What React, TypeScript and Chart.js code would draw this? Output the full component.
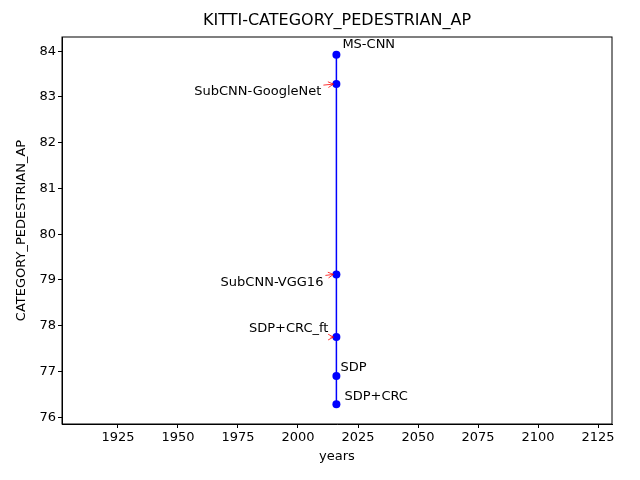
import { useEffect, useRef } from "react";
import { Chart, registerables, type Plugin } from "chart.js";

Chart.register(...registerables);

const methods = ["MS-CNN", "SubCNN-GoogleNet", "SubCNN-VGG16", "SDP+CRC_ft", "SDP", "SDP+CRC"];
const years = [2016, 2016, 2016, 2016, 2016, 2016];
const scores = [83.92, 83.28, 79.12, 77.75, 76.9, 76.28];
const xTicks = [1925, 1950, 1975, 2000, 2025, 2050, 2075, 2100, 2125];
const yTicks = [76, 77, 78, 79, 80, 81, 82, 83, 84];

// label offsets from the point, in pixels; arrow = red annotation arrow
const labelPos = [
  { dx: 6, dy: -10, align: "left" as CanvasTextAlign, arrow: false },
  { dx: -15, dy: 8, align: "right" as CanvasTextAlign, arrow: true },
  { dx: -13, dy: 8, align: "right" as CanvasTextAlign, arrow: true },
  { dx: -8, dy: -8, align: "right" as CanvasTextAlign, arrow: true },
  { dx: 4, dy: -8, align: "left" as CanvasTextAlign, arrow: false },
  { dx: 8, dy: -8, align: "left" as CanvasTextAlign, arrow: false },
];

const FONT = "DejaVu Sans";

const decor: Plugin = {
  id: "decor",
  afterDraw(chart) {
    const { ctx, chartArea: a } = chart;
    const xs = chart.scales.x;
    const ys = chart.scales.y;
    ctx.save();
    ctx.strokeStyle = "#000";
    ctx.lineWidth = 1;
    ctx.strokeRect(a.left, a.top, a.right - a.left, a.bottom - a.top);
    ctx.fillStyle = "#000";
    ctx.font = `16px ${FONT}`;
    ctx.textAlign = "center";
    ctx.textBaseline = "middle";
    ctx.fillText("KITTI-CATEGORY_PEDESTRIAN_AP", (a.left + a.right) / 2, 21);
    ctx.font = `13px ${FONT}`;
    ctx.fillText("years", (a.left + a.right) / 2, 457);
    ctx.save();
    ctx.translate(22, (a.top + a.bottom) / 2);
    ctx.rotate(-Math.PI / 2);
    ctx.fillText("CATEGORY_PEDESTRIAN_AP", 0, 0);
    ctx.restore();
    methods.forEach((m, i) => {
      const px = xs.getPixelForValue(years[i]);
      const py = ys.getPixelForValue(scores[i]);
      const p = labelPos[i];
      const tx = px + p.dx;
      const ty = py + p.dy;
      ctx.fillStyle = "#000";
      ctx.textAlign = p.align;
      ctx.fillText(m, tx, ty);
      if (p.arrow) {
        const sx = tx + 2;
        const sy = ty - (p.dy > 0 ? 7 : -8);
        const ex = px - 3;
        const ey = py;
        ctx.strokeStyle = "red";
        ctx.lineWidth = 0.8;
        ctx.beginPath();
        ctx.moveTo(sx, sy);
        ctx.lineTo(ex, ey);
        const ang = Math.atan2(ey - sy, ex - sx);
        ctx.moveTo(ex - 6 * Math.cos(ang - 0.5), ey - 6 * Math.sin(ang - 0.5));
        ctx.lineTo(ex, ey);
        ctx.lineTo(ex - 6 * Math.cos(ang + 0.5), ey - 6 * Math.sin(ang + 0.5));
        ctx.stroke();
      }
    });
    ctx.restore();
  },
};

export default function App() {
  const ref = useRef<HTMLCanvasElement | null>(null);

  useEffect(() => {
    document.body.style.margin = "0";
    const el = ref.current;
    if (!el) return;
    const chart = new Chart(el, {
      type: "line",
      data: {
        datasets: [
          {
            data: years.map((y, i) => ({ x: y, y: scores[i] })),
            borderColor: "blue",
            backgroundColor: "blue",
            borderWidth: 1.5,
            pointRadius: 4,
            pointBorderWidth: 0,
          },
        ],
      },
      options: {
        animation: false,
        responsive: false,
        layout: { padding: { top: 37, right: 28, left: 0, bottom: 0 } },
        plugins: { legend: { display: false }, tooltip: { enabled: false } },
        scales: {
          x: {
            type: "linear",
            min: 1901.7,
            max: 2130.8,
            afterBuildTicks: (s) => { s.ticks = xTicks.map((v) => ({ value: v })); },
            afterFit: (s) => { s.height = 56; },
            grid: { drawOnChartArea: false, color: "#000", tickLength: 4 },
            border: { color: "#000" },
            ticks: { color: "#000", font: { family: FONT, size: 13 }, maxRotation: 0, padding: 2, callback: (v) => String(v) },
          },
          y: {
            min: 75.85,
            max: 84.31,
            afterBuildTicks: (s) => { s.ticks = yTicks.map((v) => ({ value: v })); },
            afterFit: (s) => { s.width = 62; },
            grid: { drawOnChartArea: false, color: "#000", tickLength: 4 },
            border: { color: "#000" },
            ticks: { color: "#000", font: { family: FONT, size: 13 }, padding: 2, callback: (v) => String(v) },
          },
        },
      },
      plugins: [decor],
    });
    return () => chart.destroy();
  }, []);

  return <canvas ref={ref} width={640} height={480} />;
}
